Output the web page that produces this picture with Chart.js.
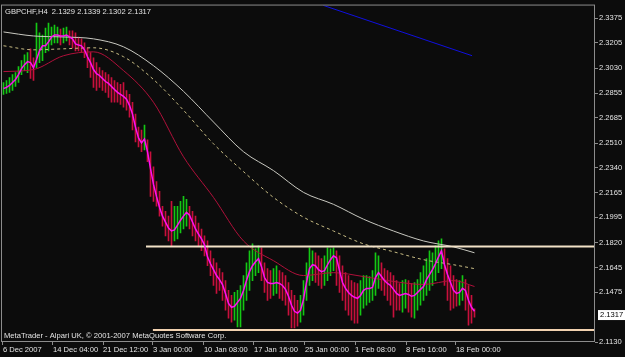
<!DOCTYPE html>
<html>
<head>
<meta charset="utf-8">
<script src="https://cdn.jsdelivr.net/npm/chart.js@4.4.0/dist/chart.umd.min.js"></script>
<style>
  html, body { margin: 0; padding: 0; background: #0c0c0c; }
  #wrap { width: 625px; height: 357px; }
</style>
</head>
<body>
<div id="wrap"><canvas id="chart" width="625" height="357"></canvas></div>
<script>
"use strict"

var symbol = "GBPCHF,H4";
var lastBar = [2.1329, 2.1339, 2.1302, 2.1317];
var copyright = "MetaTrader - Alpari UK, \u00a9 2001-2007 MetaQuotes Software Corp.";

// price bars (one bar per index)
var closes = [
  2.2889, 2.2896, 2.2910, 2.2930, 2.2951, 2.2985, 2.3027, 2.3054, 2.3075, 2.3068,
  2.3033, 2.3088, 2.3150, 2.3185, 2.3185, 2.3212, 2.3246, 2.3260, 2.3260, 2.3253,
  2.3253, 2.3260, 2.3246, 2.3233, 2.3198, 2.3191, 2.3185, 2.3157, 2.3109, 2.3068,
  2.3020, 2.2992, 2.2979, 2.2958, 2.2937, 2.2924, 2.2903, 2.2882, 2.2862, 2.2848,
  2.2834, 2.2814, 2.2772, 2.2711, 2.2621, 2.2546, 2.2511, 2.2539, 2.2450, 2.2333,
  2.2223, 2.2140, 2.2065, 2.2003, 2.1962, 2.1921, 2.1900, 2.1907, 2.1941, 2.1975,
  2.2003, 2.2030, 2.2010, 2.1962, 2.1914, 2.1879, 2.1845, 2.1804, 2.1721, 2.1673,
  2.1632, 2.1591, 2.1563, 2.1529, 2.1467, 2.1398, 2.1371, 2.1378, 2.1405, 2.1433,
  2.1488, 2.1556, 2.1618, 2.1659, 2.1687, 2.1708, 2.1653, 2.1577, 2.1543, 2.1536,
  2.1536, 2.1543, 2.1536, 2.1522, 2.1495, 2.1447, 2.1385, 2.1343, 2.1330, 2.1350,
  2.1426, 2.1543, 2.1639, 2.1666, 2.1659, 2.1632, 2.1618, 2.1625, 2.1666, 2.1701,
  2.1728, 2.1714, 2.1625, 2.1543, 2.1502, 2.1474, 2.1453, 2.1440, 2.1433, 2.1453,
  2.1488, 2.1502, 2.1502, 2.1508, 2.1577, 2.1611, 2.1584, 2.1556, 2.1536, 2.1522,
  2.1495, 2.1467, 2.1453, 2.1460, 2.1467, 2.1460, 2.1447, 2.1453, 2.1474, 2.1495,
  2.1515, 2.1563, 2.1598, 2.1632, 2.1673, 2.1721, 2.1763, 2.1666, 2.1598, 2.1543,
  2.1488, 2.1467, 2.1474, 2.1502, 2.1488, 2.1419, 2.1371, 2.1343
];
var highs = [
  2.2930, 2.2944, 2.2965, 2.2985, 2.2999, 2.3040, 2.3082, 2.3123, 2.3137, 2.3164,
  2.3102, 2.3343, 2.3274, 2.3260, 2.3308, 2.3343, 2.3315, 2.3329, 2.3315, 2.3301,
  2.3308, 2.3315, 2.3288, 2.3288, 2.3274, 2.3246, 2.3233, 2.3205, 2.3171, 2.3137,
  2.3102, 2.3068, 2.3033, 2.3013, 2.2999, 2.2985, 2.2965, 2.2944, 2.2930, 2.2917,
  2.2930, 2.2875, 2.2848, 2.2793, 2.2711, 2.2621, 2.2601, 2.2635, 2.2532, 2.2450,
  2.2346, 2.2243, 2.2175, 2.2072, 2.2037, 2.2003, 2.2106, 2.2072, 2.2072, 2.2106,
  2.2140, 2.2120, 2.2072, 2.2037, 2.2003, 2.1955, 2.1914, 2.1866, 2.1831, 2.1763,
  2.1708, 2.1680, 2.1639, 2.1611, 2.1556, 2.1488, 2.1453, 2.1474, 2.1488, 2.1522,
  2.1591, 2.1680, 2.1763, 2.1811, 2.1776, 2.1797, 2.1783, 2.1680, 2.1639, 2.1625,
  2.1639, 2.1659, 2.1625, 2.1611, 2.1591, 2.1543, 2.1488, 2.1453, 2.1419, 2.1453,
  2.1556, 2.1680, 2.1783, 2.1763, 2.1749, 2.1728, 2.1708, 2.1728, 2.1783, 2.1776,
  2.1783, 2.1763, 2.1728, 2.1659, 2.1611, 2.1591, 2.1556, 2.1543, 2.1536, 2.1556,
  2.1591, 2.1591, 2.1584, 2.1625, 2.1749, 2.1728, 2.1680, 2.1639, 2.1625, 2.1611,
  2.1591, 2.1556, 2.1536, 2.1556, 2.1563, 2.1556, 2.1536, 2.1543, 2.1563, 2.1611,
  2.1659, 2.1708, 2.1763, 2.1749, 2.1797, 2.1831, 2.1845, 2.1776, 2.1708, 2.1659,
  2.1591, 2.1563, 2.1556, 2.1591, 2.1563, 2.1522, 2.1453, 2.1360
];
var lows = [
  2.2848, 2.2855, 2.2862, 2.2875, 2.2903, 2.2930, 2.2985, 2.3013, 2.2999, 2.2958,
  2.2944, 2.3033, 2.3068, 2.3082, 2.3137, 2.3150, 2.3191, 2.3205, 2.3205, 2.3191,
  2.3205, 2.3219, 2.3191, 2.3171, 2.3150, 2.3150, 2.3137, 2.3102, 2.3033, 2.2965,
  2.2896, 2.2875, 2.2896, 2.2875, 2.2862, 2.2827, 2.2793, 2.2793, 2.2793, 2.2779,
  2.2759, 2.2738, 2.2690, 2.2601, 2.2518, 2.2484, 2.2450, 2.2463, 2.2381, 2.2140,
  2.2106, 2.2072, 2.2003, 2.1934, 2.1866, 2.1831, 2.1797, 2.1831, 2.1845, 2.1886,
  2.1914, 2.1934, 2.1914, 2.1866, 2.1831, 2.1797, 2.1763, 2.1728, 2.1659, 2.1591,
  2.1522, 2.1467, 2.1488, 2.1419, 2.1350, 2.1295, 2.1268, 2.1282, 2.1234, 2.1234,
  2.1350, 2.1419, 2.1488, 2.1556, 2.1591, 2.1611, 2.1556, 2.1474, 2.1419, 2.1433,
  2.1453, 2.1467, 2.1433, 2.1419, 2.1385, 2.1316, 2.1227, 2.1227, 2.1240, 2.1268,
  2.1316, 2.1419, 2.1522, 2.1556, 2.1543, 2.1522, 2.1502, 2.1522, 2.1556, 2.1591,
  2.1625, 2.1522, 2.1474, 2.1419, 2.1350, 2.1316, 2.1282, 2.1261, 2.1261, 2.1316,
  2.1364, 2.1385, 2.1405, 2.1419, 2.1453, 2.1502, 2.1488, 2.1453, 2.1419, 2.1385,
  2.1302, 2.1350, 2.1350, 2.1337, 2.1364, 2.1337, 2.1302, 2.1295, 2.1350, 2.1385,
  2.1419, 2.1453, 2.1488, 2.1522, 2.1556, 2.1611, 2.1639, 2.1522, 2.1419, 2.1350,
  2.1364, 2.1378, 2.1385, 2.1419, 2.1350, 2.1247, 2.1261, 2.1302
];

// moving averages, sampled every 10 bars
var maIdx  = [0, 10, 20, 30, 40, 50, 60, 70, 80, 90, 100, 110, 120, 130, 140, 150, 157];
var maSlow = [2.3281, 2.3253, 2.3246, 2.3233, 2.3178, 2.3047, 2.2869, 2.2656, 2.2450, 2.2319, 2.2168, 2.2085, 2.1982, 2.1900, 2.1831, 2.1790, 2.1749];
var maMid  = [2.3185, 2.3157, 2.3164, 2.3171, 2.3109, 2.2951, 2.2738, 2.2505, 2.2312, 2.2133, 2.1996, 2.1900, 2.1811, 2.1756, 2.1701, 2.1666, 2.1639];
var maFast = [2.3006, 2.3020, 2.3116, 2.3143, 2.3013, 2.2793, 2.2415, 2.2133, 2.1831, 2.1694, 2.1591, 2.1611, 2.1584, 2.1550, 2.1529, 2.1556, 2.1515];

// blue trend line and the two horizontal levels
var trendIdx = [106.5, 156.2];
var trendVal = [2.3466, 2.3116];
var levelIdx = [47.5, 49.8];
var levelVal = [2.1793, 2.1213];

var priceTicks = [2.3375, 2.3205, 2.3030, 2.2855, 2.2685, 2.2510, 2.2340, 2.2165, 2.1995, 2.1820, 2.1645, 2.1475, 2.1130];
var timeIdx = [-0.2, 16.5, 33.2, 49.8, 66.8, 83.5, 100.5, 117.2, 134.2, 150.8];
var timeLabels = ["6 Dec 2007", "14 Dec 04:00", "21 Dec 12:00", "3 Jan 00:00", "10 Jan 08:00",
                  "17 Jan 16:00", "25 Jan 00:00", "1 Feb 08:00", "8 Feb 16:00", "18 Feb 00:00"];

var xMin = -0.5, xMax = 197.17;
var yMin = 2.1130, yMax = 2.3464;

var font = { family: '"Liberation Sans", Arial, sans-serif', size: 7.6 };
var textColor = '#e4e4e4';
var frameColor = '#8c8c8c';

var pts = function (xs, ys) {
    return xs.map(function (x, i) { return { x: x, y: ys[i] }; });
};

var barColors = closes.map(function (c, i) {
    return (i === 0 || c >= closes[i - 1]) ? '#14c814' : '#c8103c';
});

var lineSet = function (data, color, extra) {
    var ds = {
        type: 'line',
        data: data,
        borderColor: color,
        borderWidth: 1,
        pointRadius: 0,
        fill: false,
        order: 5
    };
    return Object.assign(ds, extra || {});
};

var decor = {
    id: 'decor',
    beforeDraw: function (chart) {
        var ctx = chart.ctx;
        ctx.save();
        ctx.fillStyle = '#0c0c0c';
        ctx.fillRect(0, 0, chart.width, chart.height);
        ctx.restore();
    },
    afterDraw: function (chart) {
        var ctx = chart.ctx, a = chart.chartArea, ys = chart.scales.y;
        ctx.save();
        ctx.strokeStyle = frameColor;
        ctx.lineWidth = 1;
        ctx.strokeRect(a.left - 0.5, a.top - 0.5, a.right - a.left, a.bottom - a.top);

        ctx.font = font.size + 'px ' + font.family;
        ctx.fillStyle = textColor;
        ctx.textBaseline = 'middle';
        ctx.textAlign = 'left';
        var head = symbol + '  ' + lastBar.map(function (v) { return v.toFixed(4); }).join(' ');
        ctx.fillText(head, a.left + 3, a.top + 6);
        ctx.fillText(copyright, a.left + 2, a.bottom - 6);

        // current price tag on the price axis
        var last = lastBar[3];
        var py = ys.getPixelForValue(last);
        ctx.fillStyle = '#ffffff';
        ctx.fillRect(a.right + 3, py - 5, 27, 10);
        ctx.fillStyle = '#000000';
        ctx.fillText(last.toFixed(4), a.right + 5, py);
        ctx.restore();
    }
};

new Chart(document.getElementById('chart'), {
    type: 'bar',
    data: {
        datasets: [
            {
                type: 'bar',
                data: closes.map(function (c, i) { return { x: i, y: [lows[i], highs[i]] }; }),
                backgroundColor: barColors,
                borderWidth: 0,
                barThickness: 1,
                order: 10
            },
            lineSet(pts(maIdx, maSlow), '#c8c8c0', { cubicInterpolationMode: 'monotone' }),
            lineSet(pts(maIdx, maMid), '#c8bc84', { cubicInterpolationMode: 'monotone', borderDash: [3, 3] }),
            lineSet(pts(maIdx, maFast), '#b0103a', { cubicInterpolationMode: 'monotone' }),
            lineSet(pts(trendIdx, trendVal), '#1010e0'),
            lineSet([{ x: levelIdx[0], y: levelVal[0] }, { x: xMax, y: levelVal[0] }], '#f2e2c8', { borderWidth: 2, order: 2 }),
            lineSet([{ x: levelIdx[1], y: levelVal[1] }, { x: xMax, y: levelVal[1] }], '#f2d2b0', { borderWidth: 2, order: 2 }),
            lineSet(pts(closes.map(function (c, i) { return i; }), closes), '#ff10f0', { borderWidth: 1.5, order: 1 })
        ]
    },
    options: {
        responsive: false,
        animation: false,
        devicePixelRatio: 1,
        layout: { padding: { left: 2, top: 2, right: 0, bottom: 0 } },
        plugins: { legend: { display: false }, tooltip: { enabled: false } },
        scales: {
            x: {
                type: 'linear',
                min: xMin,
                max: xMax,
                offset: false,
                afterFit: function (s) { s.height = 15; },
                afterBuildTicks: function (s) {
                    s.ticks = timeIdx.map(function (v) { return { value: v }; });
                },
                ticks: {
                    autoSkip: false,
                    maxRotation: 0,
                    align: 'start',
                    padding: 0,
                    color: textColor,
                    font: font,
                    callback: function (v, i) { return timeLabels[i]; }
                },
                grid: { drawOnChartArea: false, tickLength: 3, color: frameColor, offset: false },
                border: { display: false }
            },
            y: {
                type: 'linear',
                position: 'right',
                min: yMin,
                max: yMax,
                afterFit: function (s) { s.width = 30; },
                afterBuildTicks: function (s) {
                    s.ticks = priceTicks.map(function (v) { return { value: v }; });
                },
                ticks: {
                    padding: 1,
                    color: textColor,
                    font: font,
                    callback: function (v) { return v.toFixed(4); }
                },
                grid: { drawOnChartArea: false, tickLength: 3, color: frameColor },
                border: { display: false }
            }
        }
    },
    plugins: [decor]
});
</script>
</body>
</html>
